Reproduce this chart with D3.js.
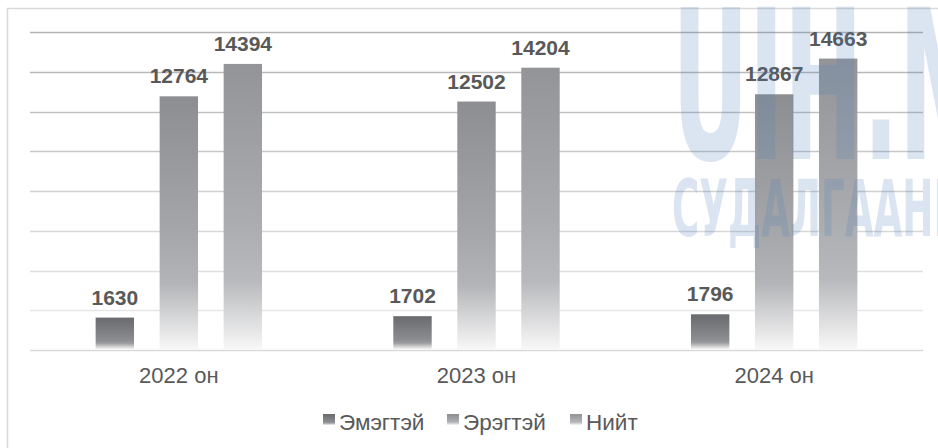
<!DOCTYPE html>
<html>
<head>
<meta charset="utf-8">
<script src="https://cdn.jsdelivr.net/npm/d3@7"></script>
<style>
  html, body { margin: 0; padding: 0; background: #fff; }
  svg { display: block; }
</style>
</head>
<body>
<svg id="chart" width="938" height="448"></svg>
<script>
const categories = ["2022 он", "2023 он", "2024 он"];
const seriesNames = ["Эмэгтэй", "Эрэгтэй", "Нийт"];
const emegtei = [1630, 1702, 1796];
const eregtei = [12764, 12502, 12867];
const niit = [14394, 14204, 14663];
const yTicks = [0, 2000, 4000, 6000, 8000, 10000, 12000, 14000, 16000];

const seriesValues = [emegtei, eregtei, niit];
const data = [];
categories.forEach((c, ci) => {
  seriesNames.forEach((s, si) => {
    data.push({ cat: c, series: s, value: seriesValues[si][ci] });
  });
});

const svg = d3.select("#chart");
const W = 938, H = 448;
const plot = { left: 30, right: 923, top: 32, bottom: 350 };

// frame
svg.append("rect").attr("x", 7.5).attr("y", 8.5).attr("width", W + 10).attr("height", H + 10)
  .attr("fill", "#fff").attr("stroke", "#d9d9d9").attr("stroke-width", 1.5);

const x0 = d3.scaleBand().domain(categories).range([plot.left, plot.right]).padding(0);
const cw = x0.bandwidth();
const x1 = d3.scaleBand().domain(seriesNames)
  .range([cw / 2 - 96, cw / 2 + 96]).paddingInner(0.4).paddingOuter(0.2);
const y = d3.scaleLinear().domain([0, 16000]).range([plot.bottom, plot.top]);

// gradients
const defs = svg.append("defs");
const gradSpecs = {
  "Эмэгтэй": [[0, "#696a6e"], [0.72, "#8c8d90"], [0.82, "#9c9da0"], [1, "#f4f4f4"]],
  "Эрэгтэй": [[0, "#8d8e92"], [0.55, "#a6a7aa"], [0.74, "#b3b4b7"], [1, "#f7f7f7"]],
  "Нийт": [[0, "#939498"], [0.55, "#abacaf"], [0.76, "#b8b9bc"], [1, "#f7f7f7"]]
};
const gid = d => "g" + seriesNames.indexOf(d);
seriesNames.forEach(s => {
  const g = defs.append("linearGradient").attr("id", gid(s))
    .attr("x1", 0).attr("y1", 0).attr("x2", 0).attr("y2", 1);
  gradSpecs[s].forEach(([o, c]) => g.append("stop").attr("offset", o).attr("stop-color", c));
});

// gridlines
const gridColor = d3.scaleLinear().domain([16000, 2000]).range(["#b2b2b2", "#e6e6e6"]);
svg.append("g").selectAll("line").data(yTicks).join("line")
  .attr("x1", plot.left).attr("x2", plot.right)
  .attr("y1", d => Math.round(y(d)) + 0.5).attr("y2", d => Math.round(y(d)) + 0.5)
  .attr("stroke", d => d === 0 ? "#d9d9d9" : gridColor(d))
  .attr("stroke-width", 1.4);

// bars
const bars = svg.append("g");
bars.selectAll("rect").data(data).join("rect")
  .attr("x", d => x0(d.cat) + x1(d.series))
  .attr("width", x1.bandwidth())
  .attr("y", d => y(d.value))
  .attr("height", d => y(0) - y(d.value) - 1)
  .attr("fill", d => `url(#${gid(d.series)})`);

// value labels
svg.append("g").selectAll("text").data(data).join("text")
  .attr("x", d => x0(d.cat) + x1(d.series) + x1.bandwidth() / 2)
  .attr("y", d => y(d.value) - 13)
  .attr("text-anchor", "middle")
  .attr("font-family", "Liberation Sans, Arial, sans-serif")
  .attr("font-weight", "bold")
  .attr("font-size", 21)
  .attr("fill", "#595959")
  .text(d => d.value);

// category axis labels
const xAxis = d3.axisBottom(x0).tickSize(0).tickPadding(0);
const ax = svg.append("g").attr("transform", `translate(0, 367)`).call(xAxis);
ax.select(".domain").remove();
ax.selectAll("text")
  .attr("dy", "0.71em")
  .attr("font-family", "Liberation Sans, Arial, sans-serif")
  .attr("font-size", 22)
  .attr("fill", "#595959");

// legend
const legendX = [323, 447, 570];
const lg = svg.append("g").selectAll("g").data(seriesNames).join("g")
  .attr("transform", (d, i) => `translate(${legendX[i]}, 0)`);
lg.append("rect").attr("x", 0).attr("y", 414).attr("width", 12).attr("height", 11)
  .attr("fill", d => `url(#${gid(d)})`);
lg.append("text").attr("x", 16).attr("y", 430)
  .attr("font-family", "Liberation Sans, Arial, sans-serif")
  .attr("font-size", 22.5)
  .attr("fill", "#595959")
  .text(d => d);

// watermark
const wm = svg.append("g").attr("fill", "#4f81bd").attr("opacity", 0.2)
  .attr("font-family", "Liberation Sans Narrow, DejaVu Sans Condensed, sans-serif")
  .attr("font-weight", "bold");
wm.append("text").attr("x", 672).attr("y", 159)
  .attr("font-size", 208)
  .attr("textLength", 400).attr("lengthAdjust", "spacingAndGlyphs")
  .text("UIH.MN");
wm.append("text").attr("x", 672).attr("y", 236)
  .attr("font-size", 78)
  .attr("textLength", 300).attr("lengthAdjust", "spacingAndGlyphs")
  .text("СУДАЛГААНЫ");
</script>
</body>
</html>
